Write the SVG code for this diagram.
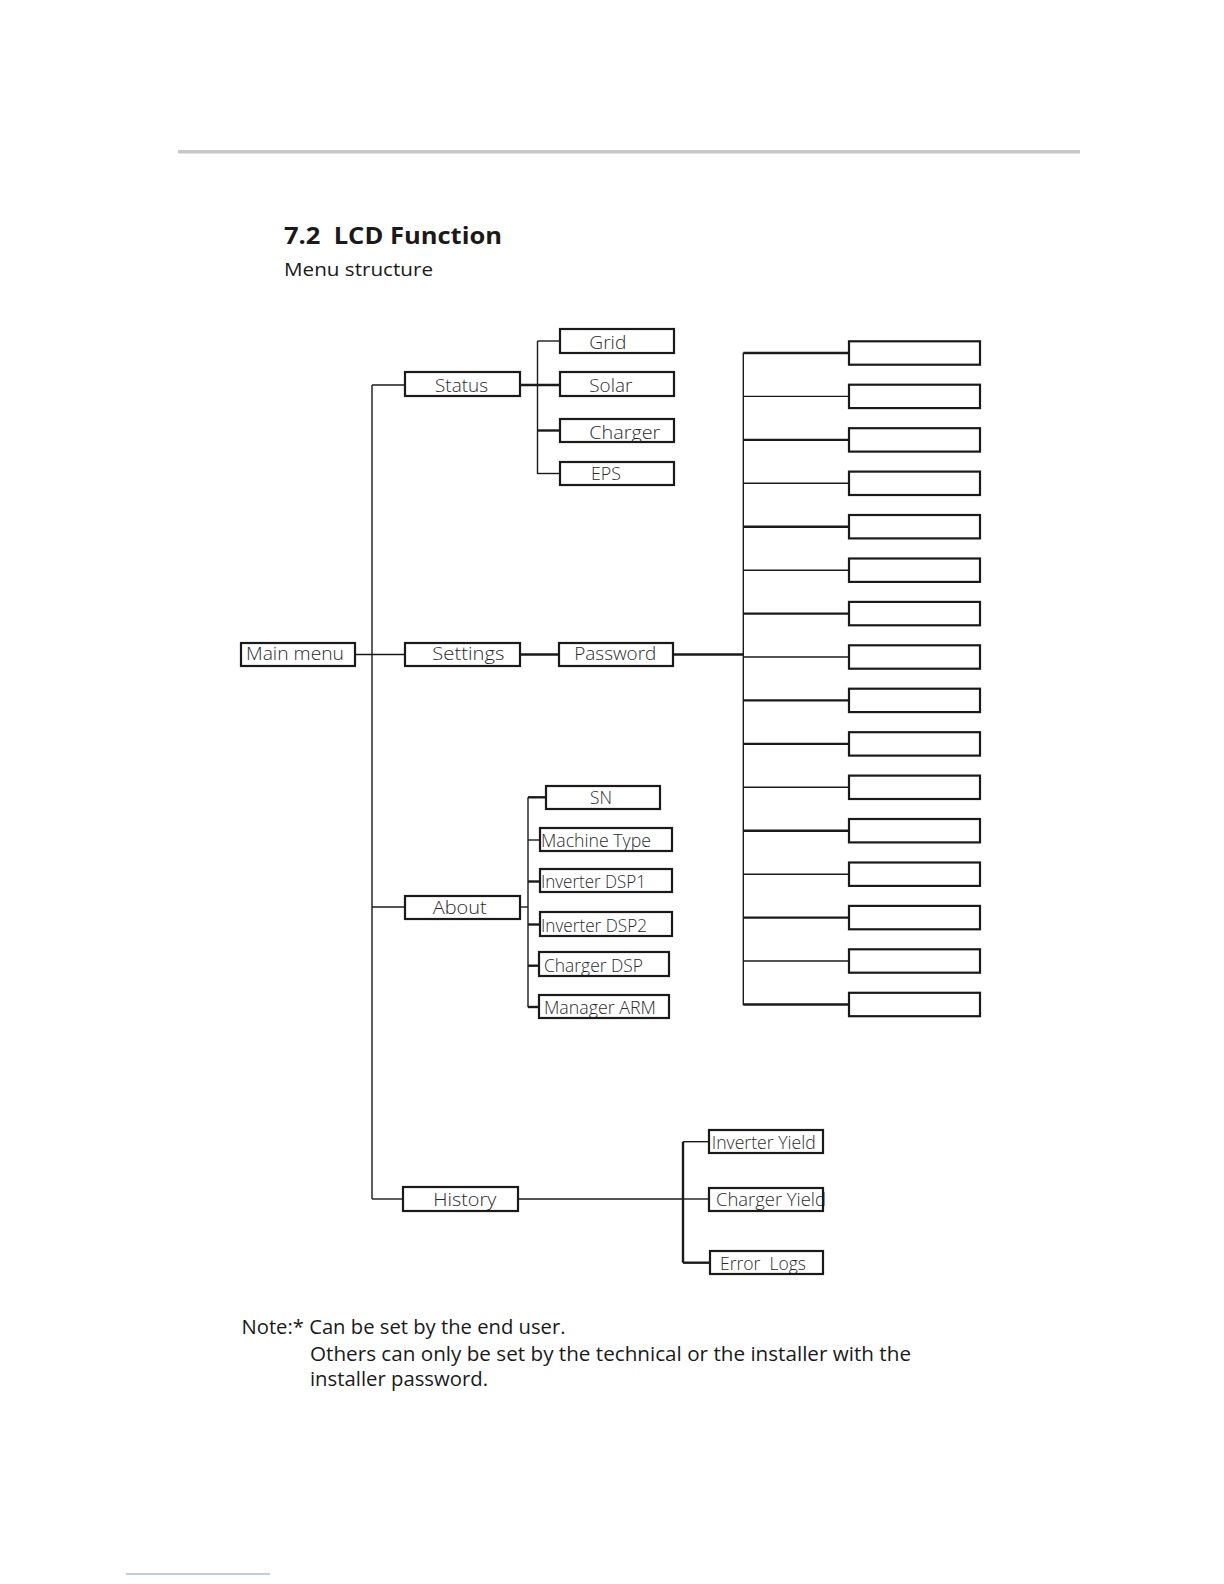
<svg xmlns="http://www.w3.org/2000/svg" width="1224" height="1584" viewBox="0 0 1224 1584">
<style>
.box{fill:none;stroke:#1a1a1a;stroke-width:2.2}
.lbl{font-family:"Open Sans","Noto Sans","Liberation Sans",sans-serif;font-size:18.5px;fill:#2a2a2a;font-weight:300}
.thin{stroke:#1a1a1a;stroke-width:1.4;fill:none}
.thick{stroke:#1a1a1a;stroke-width:2.4;fill:none}
.note{font-family:"Open Sans","Noto Sans","Liberation Sans",sans-serif;font-size:20px;fill:#1a1a1a}
</style>
<rect width="1224" height="1584" fill="#ffffff"/>
<rect x="178" y="150" width="902" height="3.5" fill="#c8c8c8"/>
<text x="284" y="243.5" font-family="'Open Sans','Noto Sans','Liberation Sans',sans-serif" font-weight="700" font-size="23.5" fill="#1a1a1a" textLength="218" lengthAdjust="spacingAndGlyphs" xml:space="preserve">7.2  LCD Function</text>
<text x="284" y="275.5" font-family="'Open Sans','Noto Sans','Liberation Sans',sans-serif" font-size="18" fill="#1a1a1a" textLength="149" lengthAdjust="spacingAndGlyphs">Menu structure</text>

<g id="connectors">
<path class="thin" d="M372 385V1199"/>
<path class="thin" d="M372 385H405"/>
<path class="thin" d="M355 654.5H405"/>
<path class="thin" d="M372 907H405"/>
<path class="thin" d="M372 1199H403"/>
<path class="thick" d="M520 385H560"/>
<path class="thin" d="M537.5 341V474"/>
<path class="thin" d="M537.5 341H560"/>
<path class="thick" d="M537.5 430.5H560"/>
<path class="thin" d="M537.5 473.5H560"/>
<path class="thick" d="M520 654.5H559"/>
<path class="thick" d="M673 654.5H743.3"/>
<path class="thin" d="M743.3 352.7V1005"/>
<path class="thick" d="M743.3 353H849"/>
<path class="thin" d="M743.3 396.4H849"/>
<path class="thick" d="M743.3 439.9H849"/>
<path class="thin" d="M743.3 483.3H849"/>
<path class="thick" d="M743.3 526.7H849"/>
<path class="thin" d="M743.3 570.2H849"/>
<path class="thick" d="M743.3 613.6H849"/>
<path class="thin" d="M743.3 657H849"/>
<path class="thick" d="M743.3 700.4H849"/>
<path class="thick" d="M743.3 743.9H849"/>
<path class="thin" d="M743.3 787.3H849"/>
<path class="thick" d="M743.3 830.7H849"/>
<path class="thin" d="M743.3 874.2H849"/>
<path class="thick" d="M743.3 917.6H849"/>
<path class="thin" d="M743.3 961H849"/>
<path class="thick" d="M743.3 1004.5H849"/>
<path class="thin" d="M520 907H528"/>
<path class="thin" d="M528 797.3V1007.3"/>
<path class="thick" d="M528 797.3H546"/>
<path class="thin" d="M528 840H540"/>
<path class="thick" d="M528 881.5H540"/>
<path class="thick" d="M528 924.5H540"/>
<path class="thick" d="M528 965.7H539"/>
<path class="thick" d="M528 1007H539"/>
<path class="thin" d="M518 1199H683"/>
<path class="thick" d="M683 1141.7V1262.7"/>
<path class="thin" d="M683 1141.7H709"/>
<path class="thin" d="M683 1199H709"/>
<path class="thick" d="M683 1262.7H710"/>
</g>

<g id="main-menu"><text class="lbl" x="246" y="660" textLength="98" lengthAdjust="spacingAndGlyphs">Main menu</text><rect class="box" x="241" y="643" width="114" height="23"/></g>
<g id="status"><text class="lbl" x="435" y="392.3" textLength="53" lengthAdjust="spacingAndGlyphs">Status</text><rect class="box" x="405" y="372" width="115" height="24"/></g>
<g id="settings"><text class="lbl" x="432.3" y="660" textLength="72" lengthAdjust="spacingAndGlyphs">Settings</text><rect class="box" x="405" y="643" width="115" height="23"/></g>
<g id="about"><text class="lbl" x="432.7" y="914" textLength="54" lengthAdjust="spacingAndGlyphs">About</text><rect class="box" x="405" y="896" width="115" height="23"/></g>
<g id="history"><text class="lbl" x="433.3" y="1206" textLength="63" lengthAdjust="spacingAndGlyphs">History</text><rect class="box" x="403" y="1187" width="115" height="24"/></g>
<g id="grid"><text class="lbl" x="589.3" y="349" textLength="37" lengthAdjust="spacingAndGlyphs">Grid</text><rect class="box" x="560" y="329" width="114" height="24"/></g>
<g id="solar"><text class="lbl" x="589.3" y="392.3" textLength="43" lengthAdjust="spacingAndGlyphs">Solar</text><rect class="box" x="560" y="372" width="114" height="24"/></g>
<g id="charger"><text class="lbl" x="589.3" y="438.5" textLength="71" lengthAdjust="spacingAndGlyphs">Charger</text><rect class="box" x="560" y="419" width="114" height="23"/></g>
<g id="eps"><text class="lbl" x="591" y="480" textLength="30" lengthAdjust="spacingAndGlyphs">EPS</text><rect class="box" x="560" y="462" width="114" height="23"/></g>
<g id="password"><text class="lbl" x="574.3" y="660" textLength="82" lengthAdjust="spacingAndGlyphs">Password</text><rect class="box" x="559" y="643" width="114" height="23"/></g>
<g id="sn"><text class="lbl" x="590" y="804.3" textLength="22" lengthAdjust="spacingAndGlyphs">SN</text><rect class="box" x="546" y="786" width="114" height="23"/></g>
<g id="machine-type"><text class="lbl" x="541" y="846.7" textLength="110" lengthAdjust="spacingAndGlyphs">Machine Type</text><rect class="box" x="540" y="828" width="132" height="23"/></g>
<g id="inverter-dsp1"><text class="lbl" x="541" y="888.3" textLength="105" lengthAdjust="spacingAndGlyphs">Inverter DSP1</text><rect class="box" x="540" y="869" width="132" height="23"/></g>
<g id="inverter-dsp2"><text class="lbl" x="541" y="931.7" textLength="106" lengthAdjust="spacingAndGlyphs">Inverter DSP2</text><rect class="box" x="540" y="912" width="132" height="24"/></g>
<g id="charger-dsp"><text class="lbl" x="544" y="972" textLength="99" lengthAdjust="spacingAndGlyphs">Charger DSP</text><rect class="box" x="539" y="952" width="130" height="24"/></g>
<g id="manager-arm"><text class="lbl" x="544" y="1014" textLength="112" lengthAdjust="spacingAndGlyphs">Manager ARM</text><rect class="box" x="539" y="995" width="130" height="23"/></g>
<g id="inverter-yield"><text class="lbl" x="711.7" y="1148.7" textLength="104" lengthAdjust="spacingAndGlyphs">Inverter Yield</text><rect class="box" x="709" y="1130" width="114" height="23"/></g>
<g id="charger-yield"><text class="lbl" x="716" y="1206" textLength="110" lengthAdjust="spacingAndGlyphs">Charger Yield</text><rect class="box" x="709" y="1188" width="114" height="23"/></g>
<g id="error-logs"><text class="lbl" x="720" y="1270" textLength="86" lengthAdjust="spacingAndGlyphs" xml:space="preserve">Error  Logs</text><rect class="box" x="710" y="1251" width="113" height="23"/></g>

<g id="option-boxes">
<rect class="box" x="849" y="341.3" width="131" height="23.4"/>
<rect class="box" x="849" y="384.7" width="131" height="23.4"/>
<rect class="box" x="849" y="428.2" width="131" height="23.4"/>
<rect class="box" x="849" y="471.6" width="131" height="23.4"/>
<rect class="box" x="849" y="515" width="131" height="23.4"/>
<rect class="box" x="849" y="558.5" width="131" height="23.4"/>
<rect class="box" x="849" y="601.9" width="131" height="23.4"/>
<rect class="box" x="849" y="645.3" width="131" height="23.4"/>
<rect class="box" x="849" y="688.7" width="131" height="23.4"/>
<rect class="box" x="849" y="732.2" width="131" height="23.4"/>
<rect class="box" x="849" y="775.6" width="131" height="23.4"/>
<rect class="box" x="849" y="819" width="131" height="23.4"/>
<rect class="box" x="849" y="862.5" width="131" height="23.4"/>
<rect class="box" x="849" y="905.9" width="131" height="23.4"/>
<rect class="box" x="849" y="949.3" width="131" height="23.4"/>
<rect class="box" x="849" y="992.8" width="131" height="23.4"/>
</g>

<g id="note">
<text class="note" x="241.5" y="1334" textLength="324" lengthAdjust="spacingAndGlyphs">Note:* Can be set by the end user.</text>
<text class="note" x="310" y="1360.5" textLength="601" lengthAdjust="spacingAndGlyphs">Others can only be set by the technical or the installer with the</text>
<text class="note" x="310" y="1386" textLength="178" lengthAdjust="spacingAndGlyphs">installer password.</text>
</g>
<line x1="126" y1="1574" x2="270" y2="1574" stroke="#8096dc" stroke-width="1"/>
</svg>
